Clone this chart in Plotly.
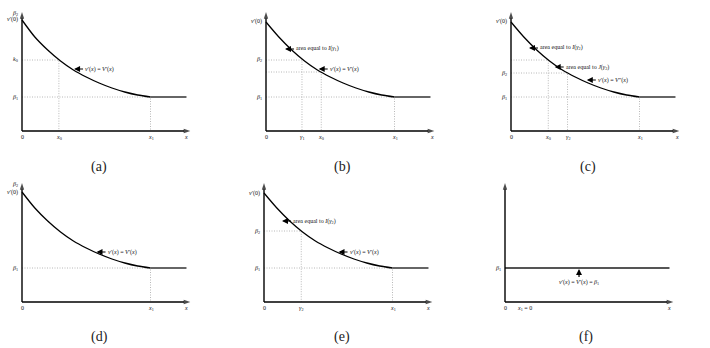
import plotly.graph_objects as go

# ---------------- data ----------------
panels = ["a", "b", "c", "d", "e", "f"]

# shared shape of the decreasing part of v'(x) (after v'(0))
curve_x = [0, 0.1, 0.2, 0.3, 0.4, 0.5, 0.6, 0.7, 0.8, 0.9, 1.0]
curve_y_rest = [0.94, 0.81, 0.70, 0.61, 0.54, 0.48, 0.43, 0.39, 0.36, 0.34]
v0 = {"a": 1.11, "b": 1.09, "c": 1.09, "d": 1.10, "e": 1.09}
beta1 = 0.34
x1 = 1.0
flat_end = 1.28
axis_x_end = 1.31
axis_y_end = 1.19

# dotted guide points (x, y)
guides = {
    "a": [(0.287, 0.71), (1.0, 0.34)],
    "b": [(0.28, 0.71), (0.43, 0.59), (1.0, 0.34)],
    "c": [(0.29, 0.71), (0.44, 0.58), (1.0, 0.34)],
    "d": [(1.0, 0.34)],
    "e": [(0.29, 0.71), (1.0, 0.34)],
    "f": [],
}

xticks = {
    "a": [(0, "0"), (0.287, "<i>x</i><sub>0</sub>"), (1.0, "<i>x</i><sub>1</sub>"), (1.28, "<i>x</i>")],
    "b": [(0, "0"), (0.28, "<i>γ</i><sub>1</sub>"), (0.43, "<i>x</i><sub>0</sub>"), (1.0, "<i>x</i><sub>1</sub>"), (1.29, "<i>x</i>")],
    "c": [(0, "0"), (0.29, "<i>x</i><sub>0</sub>"), (0.44, "<i>γ</i><sub>2</sub>"), (1.0, "<i>x</i><sub>1</sub>"), (1.29, "<i>x</i>")],
    "d": [(0, "0"), (1.0, "<i>x</i><sub>1</sub>"), (1.28, "<i>x</i>")],
    "e": [(0, "0"), (0.29, "<i>γ</i><sub>2</sub>"), (1.0, "<i>x</i><sub>1</sub>"), (1.28, "<i>x</i>")],
    "f": [(0, "0"), (0.15, "<i>x</i><sub>1</sub> = 0"), (1.28, "<i>x</i>")],
}

yticks = {
    "a": [(1.175, "<i>β</i><sub>2</sub>"), (1.11, "<i>v</i>′(0)"), (0.71, "<i>k</i><sub>0</sub>"), (0.34, "<i>β</i><sub>1</sub>")],
    "b": [(1.09, "<i>v</i>′(0)"), (0.71, "<i>β</i><sub>2</sub>"), (0.34, "<i>β</i><sub>1</sub>")],
    "c": [(1.09, "<i>v</i>′(0)"), (0.58, "<i>β</i><sub>2</sub>"), (0.34, "<i>β</i><sub>1</sub>")],
    "d": [(1.175, "<i>β</i><sub>2</sub>"), (1.10, "<i>v</i>′(0)"), (0.34, "<i>β</i><sub>1</sub>")],
    "e": [(1.09, "<i>v</i>′(0)"), (0.71, "<i>β</i><sub>2</sub>"), (0.34, "<i>β</i><sub>1</sub>")],
    "f": [(0.34, "<i>β</i><sub>1</sub>")],
}

# label arrows: (head x, head y, text)
labels = {
    "a": [(0.405, 0.62, "<i>v</i>′(<i>x</i>) = <i>V</i>′(<i>x</i>)")],
    "b": [(0.148, 0.82, "area equal to <i>I</i>(<i>γ</i><sub>1</sub>)"),
          (0.41, 0.62, "<i>v</i>′(<i>x</i>) = <i>V</i>′(<i>x</i>)")],
    "c": [(0.14, 0.83, "area equal to <i>I</i>(<i>γ</i><sub>2</sub>)"),
          (0.34, 0.64, "area equal to <i>J</i>(<i>γ</i><sub>2</sub>)"),
          (0.59, 0.51, "<i>v</i>′(<i>x</i>) = <i>V</i>″(<i>x</i>)")],
    "d": [(0.58, 0.50, "<i>v</i>′(<i>x</i>) = <i>V</i>′(<i>x</i>)")],
    "e": [(0.14, 0.81, "area equal to <i>I</i>(<i>γ</i><sub>2</sub>)"),
          (0.58, 0.50, "<i>v</i>′(<i>x</i>) = <i>V</i>′(<i>x</i>)")],
    "f": [],
}
f_label = (0.576, 0.33, "<i>v</i>′(<i>x</i>) = <i>V</i>′(<i>x</i>) = <i>β</i><sub>1</sub>")

captions = ["(a)", "(b)", "(c)", "(d)", "(e)", "(f)"]

# ---------------- layout geometry ----------------
W, H = 710, 348
origins = {"a": (22, 131), "b": (266, 131), "c": (511, 131),
           "d": (22, 302), "e": (264, 302), "f": (505, 302)}
caption_pos = [(99, 167), (342, 167), (588, 167), (99, 337), (342, 337), (586, 337)]
PX_X = 128.5   # pixels per x unit
PX_Y = 100.0   # pixels per y unit
LEFT, RIGHT, BELOW, ABOVE = 30, 178, 14, 127

SERIF = "Liberation Serif"
TXT = "#111111"
fig = go.Figure()
layout = dict(width=W, height=H, margin=dict(l=0, r=0, t=0, b=0),
              paper_bgcolor="white", plot_bgcolor="white", showlegend=False)
annotations = []

for i, p in enumerate(panels):
    k = "" if i == 0 else str(i + 1)
    xa, ya = "x" + k, "y" + k
    ox, oy = origins[p]
    lpx = max(0, ox - LEFT)
    tpx = max(0, oy - ABOVE)
    layout["xaxis" + k] = dict(domain=[lpx / W, (ox + RIGHT) / W],
                               range=[-(ox - lpx) / PX_X, RIGHT / PX_X], visible=False, fixedrange=True)
    layout["yaxis" + k] = dict(domain=[1 - (oy + BELOW) / H, 1 - tpx / H],
                               range=[-BELOW / PX_Y, (oy - tpx) / PX_Y], visible=False, fixedrange=True)

    # dotted guides
    gx, gy = [], []
    for (x, y) in guides[p]:
        gx += [0, x, x, None]
        gy += [y, y, 0, None]
    if gx:
        fig.add_trace(go.Scatter(x=gx, y=gy, mode="lines", xaxis=xa, yaxis=ya,
                                 line=dict(color="#b8b8b8", width=1, dash="1px,1.5px"),
                                 hoverinfo="skip"))

    # curve
    if p != "f":
        fig.add_trace(go.Scatter(x=curve_x, y=[v0[p]] + curve_y_rest, mode="lines",
                                 xaxis=xa, yaxis=ya, line=dict(color="black", width=1.3, shape="spline", smoothing=0.8),
                                 hoverinfo="skip"))
        fig.add_trace(go.Scatter(x=[x1, flat_end], y=[beta1, beta1], mode="lines",
                                 xaxis=xa, yaxis=ya, line=dict(color="#333333", width=1.5),
                                 hoverinfo="skip"))
    else:
        fig.add_trace(go.Scatter(x=[0, flat_end], y=[beta1, beta1], mode="lines",
                                 xaxis=xa, yaxis=ya, line=dict(color="#555555", width=1.8),
                                 hoverinfo="skip"))

    # axes with arrow heads
    for (ex, ey) in [(axis_x_end, 0), (0, axis_y_end)]:
        fig.add_trace(go.Scatter(x=[0, ex], y=[0, ey], mode="lines+markers", xaxis=xa, yaxis=ya,
                                 line=dict(color="black", width=1.4),
                                 marker=dict(symbol=["circle", "arrow"], size=[0, 7], color="black",
                                             angleref="previous", line=dict(width=0)),
                                 hoverinfo="skip"))

    # tick labels
    for (x, t) in xticks[p]:
        annotations.append(dict(x=x, y=-0.01, xref=xa, yref=ya, text=t, showarrow=False,
                                xanchor="center", yanchor="top",
                                font=dict(family=SERIF, size=6, color=TXT)))
    for (y, t) in yticks[p]:
        annotations.append(dict(x=-0.012, y=y, xref=xa, yref=ya, text=t, showarrow=False,
                                xanchor="right", yanchor="middle",
                                font=dict(family=SERIF, size=6, color=TXT)))

    # labelled arrows
    for (hx, hy, t) in labels[p]:
        annotations.append(dict(x=hx, y=hy, xref=xa, yref=ya, text=t, showarrow=True,
                                ax=9, ay=0, xanchor="left", yanchor="middle",
                                arrowhead=2, arrowsize=1, arrowwidth=1.2, arrowcolor="black",
                                font=dict(family=SERIF, size=6, color=TXT)))
    if p == "f":
        hx, hy, t = f_label
        annotations.append(dict(x=hx, y=hy, xref=xa, yref=ya, text=t, showarrow=True,
                                ax=0, ay=8, xanchor="center", yanchor="top",
                                arrowhead=2, arrowsize=1, arrowwidth=1.2, arrowcolor="black",
                                font=dict(family=SERIF, size=6, color=TXT)))

for (cx, cy), c in zip(caption_pos, captions):
    annotations.append(dict(x=cx / W, y=1 - cy / H, xref="paper", yref="paper", text=c,
                            showarrow=False, xanchor="center", yanchor="middle",
                            font=dict(family=SERIF, size=14, color="#222222")))

layout["annotations"] = annotations
fig.update_layout(**layout)
fig.write_html("out.html")
